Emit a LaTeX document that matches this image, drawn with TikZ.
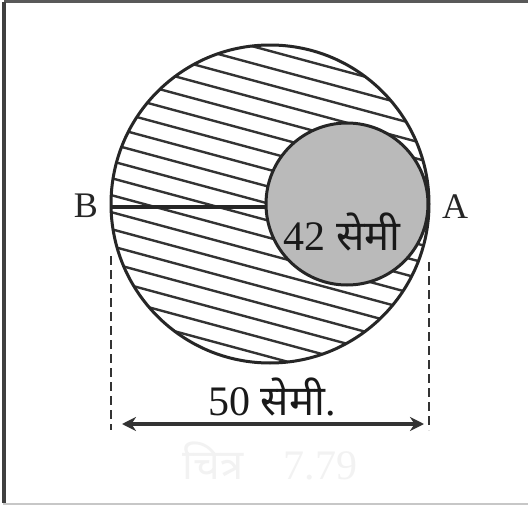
\documentclass[tikz,border=0pt]{standalone}
\usepackage{fontspec}
\setmainfont{Liberation Serif}
\newfontfamily\deva[Script=Devanagari]{Noto Sans}
\usetikzlibrary{arrows.meta,calc}
\tikzset{
  topline/.style={draw=black!65,line width=3pt},
  leftline/.style={draw=black!75,line width=3.5pt},
  botline/.style={draw=black!22,line width=2pt},
  outline/.style={draw=black!85,line width=3pt},
  hatchline/.style={draw=black!80,line width=2.4pt},
  dimline/.style={draw=black!80,line width=2.5pt,dash pattern=on 9pt off 5pt},
  arrowline/.style={draw=black!80,line width=3.2pt,{Stealth[length=14pt,width=14pt]}-{Stealth[length=14pt,width=14pt]}},
  lbl/.style={inner sep=0pt,font=\fontsize{36}{40}\selectfont,text=black!85},
  meas/.style={inner sep=0pt,font=\fontsize{42}{46}\selectfont,text=black!90}
}
\begin{document}
\begin{tikzpicture}[x=1pt,y=-1pt]
\useasboundingbox (0,0) rectangle (528,506);
\fill[white] (0,0) rectangle (528,506);
% frame
\coordinate (f1) at (4,1.5);
\coordinate (f2) at (528,1.5);
\coordinate (f3) at (4,503);
\coordinate (f4) at (3,504);
\coordinate (f5) at (528,504);
\draw[topline] (f1) -- (f2);
\draw[leftline] (f1) -- (f3);
\draw[botline] (f4) -- (f5);
% circles
\coordinate (O) at (270,204);
\coordinate (C) at (347,204);
\coordinate (Bp) at (111,207);
\coordinate (Cl) at (266,207);
\begin{scope}
  \clip (O) circle (159);
  \foreach \k in {-14,...,14} {
    \draw[hatchline] ($(O)+(-180,-48.6)+(0,17*\k)$) -- ($(O)+(180,48.6)+(0,17*\k)$);
  }
\end{scope}
\draw[line width=3.2pt,draw=black!85] (Bp) -- (Cl);
\fill[black!27] (C) circle (81);
\draw[outline] (C) circle (81);
\draw[outline] (O) circle (159);
% dimension lines
\coordinate (dl1) at (111,256);
\coordinate (dl2) at (111,430);
\coordinate (dr1) at (429,262);
\coordinate (dr2) at (429,430);
\draw[dimline] (dl1) -- (dl2);
\draw[dimline] (dr1) -- (dr2);
\coordinate (a1) at (122,424);
\coordinate (a2) at (424,424);
\draw[arrowline] (a1) -- (a2);
% labels
\node[lbl] (B) at (86,206) {B};
\node[lbl] (A) at (455,207) {A};
\node[meas] (r) at (342,232) {42 {\deva सेमी}};
\node[meas] (d) at (272,397) {50 {\deva सेमी}.};
\node[meas,text=black!5] (cap) at (270,461) {{\deva चित्र}\hspace{40pt}7.79};
\end{tikzpicture}
\end{document}
